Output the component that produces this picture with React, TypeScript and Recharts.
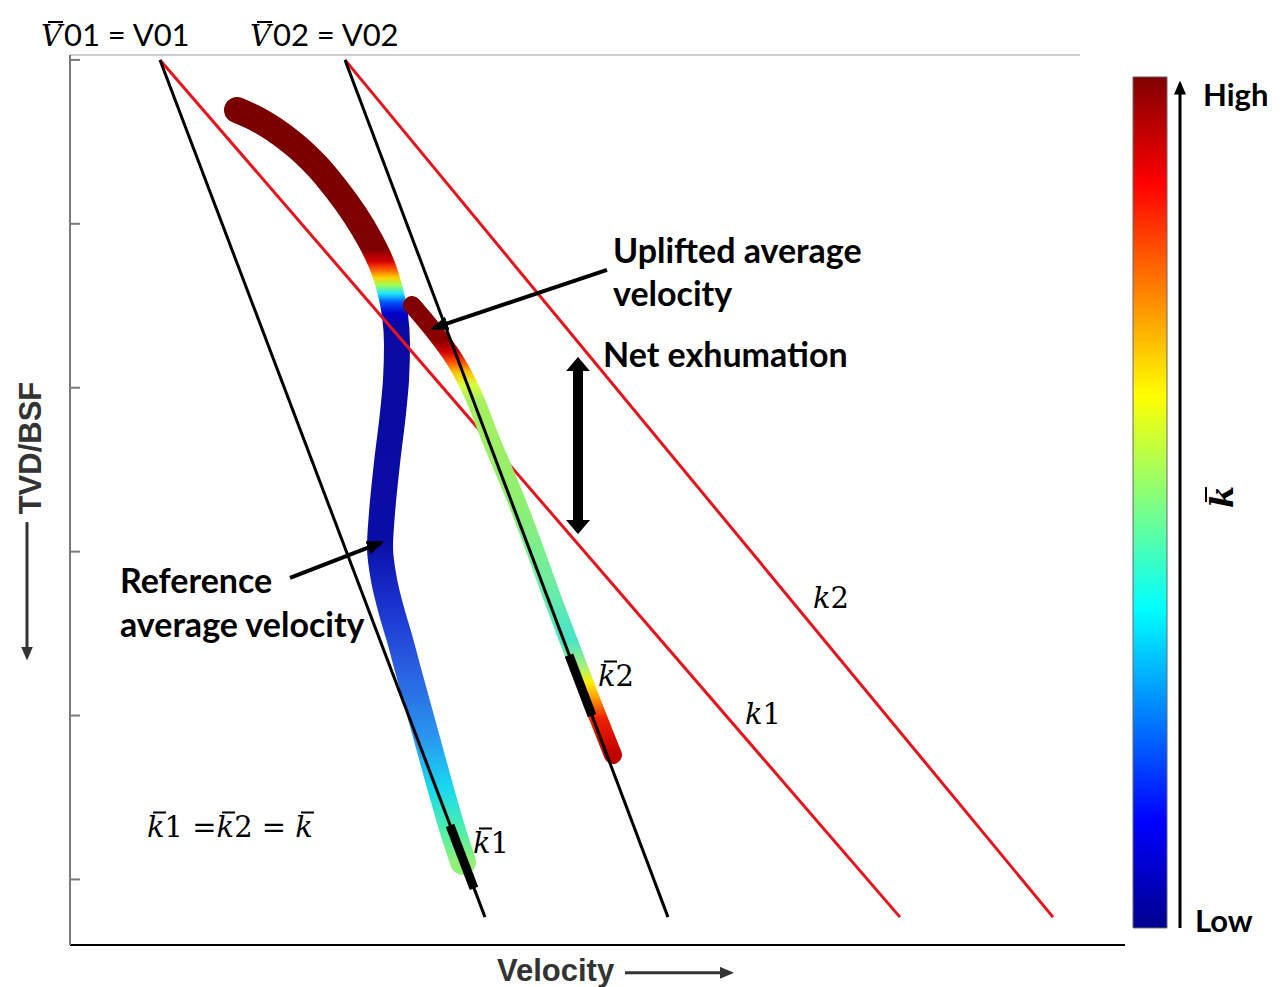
import React from "react";
import { ComposedChart, Line, XAxis, YAxis, ReferenceLine, ReferenceArea } from "recharts";

// velocity (x) and depth (TVD/BSF, y, increasing downwards) in arbitrary units
const depthTicks = [0, 1, 2, 3, 4, 5];

const blackLine1 = [
  { v: 0.9, d: 0 },
  { v: 4.15, d: 5.23 },
];
const redLine1 = [
  { v: 0.9, d: 0 },
  { v: 8.3, d: 5.23 },
];
const blackLine2 = [
  { v: 2.75, d: 0 },
  { v: 5.98, d: 5.23 },
];
const redLine2 = [
  { v: 2.75, d: 0 },
  { v: 9.83, d: 5.23 },
];

// reference average velocity trend
const referenceCurve = [
  { v: 1.67, d: 0.306 },
  { v: 1.85, d: 0.355 },
  { v: 2.05, d: 0.428 },
  { v: 2.26, d: 0.525 },
  { v: 2.47, d: 0.647 },
  { v: 2.67, d: 0.794 },
  { v: 2.85, d: 0.946 },
  { v: 3.0, d: 1.099 },
  { v: 3.12, d: 1.251 },
  { v: 3.2, d: 1.404 },
  { v: 3.25, d: 1.556 },
  { v: 3.27, d: 1.739 },
  { v: 3.26, d: 1.953 },
  { v: 3.23, d: 2.154 },
  { v: 3.17, d: 2.459 },
  { v: 3.12, d: 2.764 },
  { v: 3.1, d: 2.972 },
  { v: 3.14, d: 3.173 },
  { v: 3.22, d: 3.374 },
  { v: 3.3, d: 3.539 },
  { v: 3.38, d: 3.722 },
  { v: 3.49, d: 3.966 },
  { v: 3.6, d: 4.21 },
  { v: 3.71, d: 4.454 },
  { v: 3.82, d: 4.686 },
  { v: 3.93, d: 4.893 },
];

// uplifted average velocity trend
const upliftedCurve = [
  { v: 3.42, d: 1.495 },
  { v: 3.63, d: 1.648 },
  { v: 3.83, d: 1.813 },
  { v: 4.01, d: 2.014 },
  { v: 4.21, d: 2.319 },
  { v: 4.45, d: 2.667 },
  { v: 4.64, d: 2.972 },
  { v: 4.82, d: 3.277 },
  { v: 5.01, d: 3.582 },
  { v: 5.2, d: 3.887 },
  { v: 5.35, d: 4.119 },
  { v: 5.43, d: 4.241 },
];

// fitted k-bar intervals
const kBar1 = [
  { v: 3.8, d: 4.67 },
  { v: 4.04, d: 5.055 },
];
const kBar2 = [
  { v: 4.99, d: 3.632 },
  { v: 5.22, d: 4.0 },
];

// colour stops (offset along depth of each trend)
const refStops: [number, string][] = [
  [0, "#7a0000"],
  [0.185, "#800000"],
  [0.201, "#d40000"],
  [0.212, "#ff5a00"],
  [0.223, "#ffd200"],
  [0.233, "#9cff5a"],
  [0.244, "#1ee6ff"],
  [0.256, "#0050ff"],
  [0.27, "#0000c8"],
  [0.291, "#0a0aa0"],
  [0.57, "#0a0ca6"],
  [0.662, "#1a34d0"],
  [0.742, "#2a5ee0"],
  [0.834, "#2a96f0"],
  [0.901, "#18d8f0"],
  [0.96, "#50f0a8"],
  [1, "#90f078"],
];
const upStops: [number, string][] = [
  [0, "#800000"],
  [0.078, "#8a0000"],
  [0.104, "#d00000"],
  [0.127, "#ff5000"],
  [0.149, "#ffc000"],
  [0.178, "#d8ff40"],
  [0.211, "#a8f060"],
  [0.433, "#90ee70"],
  [0.611, "#70eea0"],
  [0.744, "#48e4c8"],
  [0.8, "#a0f080"],
  [0.84, "#fff000"],
  [0.878, "#ff9000"],
  [0.918, "#f02000"],
  [1, "#c00000"],
];
const jetStops: [number, string][] = [
  [0, "#800000"],
  [0.125, "#ff0000"],
  [0.375, "#ffff00"],
  [0.5, "#80ff80"],
  [0.625, "#00ffff"],
  [0.875, "#0000ff"],
  [1, "#00008f"],
];

const RED = "#e8141c";
const MATH = "'DejaVu Serif', serif";
const SANS = "Lato, 'Open Sans', sans-serif";
const ARIAL = "'Liberation Sans', Arial, sans-serif";

const arrow =
  (width: number, end: string, start?: string, color = "#000") =>
  (p: any) =>
    (
      <line
        x1={p.x1}
        y1={p.y1}
        x2={p.x2}
        y2={p.y2}
        stroke={color}
        strokeWidth={width}
        markerEnd={`url(#${end})`}
        markerStart={start ? `url(#${start})` : undefined}
      />
    );

const Txt = ({ x, y, size, children, style }: any) => (
  <div
    style={{
      position: "absolute",
      left: x,
      top: y,
      fontSize: size,
      lineHeight: 1,
      whiteSpace: "nowrap",
      transform: "translateY(-50%)",
      ...style,
    }}
  >
    {children}
  </div>
);

const Bar = ({ children, left = "0.2em", w = "0.45em" }: any) => (
  <span style={{ position: "relative", display: "inline-block" }}>
    {children}
    <span
      style={{
        position: "absolute",
        left,
        top: "-0.02em",
        width: w,
        height: "0.06em",
        background: "currentColor",
      }}
    />
  </span>
);

const K = ({ bar }: { bar?: boolean }) =>
  bar ? (
    <Bar>
      <i>k</i>
    </Bar>
  ) : (
    <i>k</i>
  );

export default function App() {
  return (
    <div
      style={{
        position: "absolute",
        left: 0,
        top: 0,
        width: 1282,
        height: 987,
        background: "#fff",
        overflow: "hidden",
      }}
    >
      <ComposedChart width={1282} height={987} margin={{ top: 55, right: 157, bottom: 12, left: 10 }}>
        <defs>
          <linearGradient id="refGrad" x1="0" y1="0" x2="0" y2="1">
            {refStops.map(([o, c]) => (
              <stop key={o} offset={o} stopColor={c} />
            ))}
          </linearGradient>
          <linearGradient id="upGrad" x1="0" y1="0" x2="0" y2="1">
            {upStops.map(([o, c]) => (
              <stop key={o} offset={o} stopColor={c} />
            ))}
          </linearGradient>
          <linearGradient id="jet" x1="0" y1="0" x2="0" y2="1">
            {jetStops.map(([o, c]) => (
              <stop key={o} offset={o} stopColor={c} />
            ))}
          </linearGradient>
          <marker id="headMd" viewBox="0 0 18 14" refX="14" refY="7" markerWidth="18" markerHeight="14" markerUnits="userSpaceOnUse" orient="auto-start-reverse">
            <path d="M0,0 L18,7 L0,14 z" fill="#000" />
          </marker>
          <marker id="headBig" viewBox="0 0 14 24" refX="5" refY="12" markerWidth="14" markerHeight="24" markerUnits="userSpaceOnUse" orient="auto-start-reverse">
            <path d="M0,0 L14,12 L0,24 z" fill="#000" />
          </marker>
          <marker id="headSm" viewBox="0 0 14 12" refX="10" refY="6" markerWidth="14" markerHeight="12" markerUnits="userSpaceOnUse" orient="auto-start-reverse">
            <path d="M0,0 L14,6 L0,12 z" fill="#000" />
          </marker>
          <marker id="headSmGray" viewBox="0 0 14 12" refX="10" refY="6" markerWidth="14" markerHeight="12" markerUnits="userSpaceOnUse" orient="auto-start-reverse">
            <path d="M0,0 L14,6 L0,12 z" fill="#333" />
          </marker>
        </defs>
        <XAxis
          type="number"
          dataKey="v"
          domain={[0, 10.55]}
          allowDataOverflow
          tick={false}
          tickLine={false}
          axisLine={{ stroke: "#000", strokeWidth: 2 }}
          height={30}
        />
        <YAxis
          type="number"
          dataKey="d"
          domain={[-0.03, 5.4]}
          reversed
          allowDataOverflow
          ticks={depthTicks}
          tickSize={-10}
          tickFormatter={() => ""}
          axisLine={{ stroke: "#7a7a7a", strokeWidth: 2 }}
          tickLine={{ stroke: "#7a7a7a", strokeWidth: 2 }}
          width={60}
        />
        {/* thin frame line along the top */}
        <ReferenceLine
          segment={[
            { x: 0, y: -0.03 },
            { x: 10.1, y: -0.03 },
          ]}
          stroke="#9a9a9a"
          strokeWidth={1}
          ifOverflow="visible"
        />

        <Line data={referenceCurve} dataKey="d" type="monotoneY" stroke="url(#refGrad)" strokeWidth={26} strokeLinecap="round" strokeLinejoin="round" dot={false} activeDot={false} isAnimationActive={false} />
        <Line data={redLine1} dataKey="d" type="linear" stroke={RED} strokeWidth={3} dot={false} activeDot={false} isAnimationActive={false} />
        <Line data={redLine2} dataKey="d" type="linear" stroke={RED} strokeWidth={3} dot={false} activeDot={false} isAnimationActive={false} />
        <Line data={upliftedCurve} dataKey="d" type="monotoneY" stroke="url(#upGrad)" strokeWidth={18} strokeLinecap="round" strokeLinejoin="round" dot={false} activeDot={false} isAnimationActive={false} />
        <Line data={blackLine1} dataKey="d" type="linear" stroke="#000" strokeWidth={3} dot={false} activeDot={false} isAnimationActive={false} />
        <Line data={blackLine2} dataKey="d" type="linear" stroke="#000" strokeWidth={3} dot={false} activeDot={false} isAnimationActive={false} />
        <Line data={kBar1} dataKey="d" type="linear" stroke="#000" strokeWidth={9} dot={false} activeDot={false} isAnimationActive={false} />
        <Line data={kBar2} dataKey="d" type="linear" stroke="#000" strokeWidth={9} dot={false} activeDot={false} isAnimationActive={false} />

        {/* colour bar */}
        <ReferenceArea x1={10.63} x2={10.97} y1={0.104} y2={5.296} fill="url(#jet)" fillOpacity={1} stroke="#666" strokeWidth={1} ifOverflow="visible" />

        {/* annotation arrows */}
        <ReferenceLine segment={[{ x: 5.37, y: 1.281 }, { x: 3.64, y: 1.635 }]} shape={arrow(4, "headMd")} ifOverflow="visible" />
        <ReferenceLine segment={[{ x: 2.2, y: 3.16 }, { x: 3.11, y: 2.945 }]} shape={arrow(4, "headMd")} ifOverflow="visible" />
        <ReferenceLine segment={[{ x: 5.08, y: 1.868 }, { x: 5.08, y: 2.838 }]} shape={arrow(10, "headBig", "headBig")} ifOverflow="visible" />
        <ReferenceLine segment={[{ x: 11.1, y: 5.296 }, { x: 11.1, y: 0.15 }]} shape={arrow(3, "headSm")} ifOverflow="visible" />
        <ReferenceLine segment={[{ x: 5.55, y: 5.57 }, { x: 6.6, y: 5.57 }]} shape={arrow(3, "headSmGray", undefined, "#333")} ifOverflow="visible" />
        <ReferenceLine segment={[{ x: -0.43, y: 2.82 }, { x: -0.43, y: 3.64 }]} shape={arrow(3, "headSmGray", undefined, "#333")} ifOverflow="visible" />
      </ComposedChart>

      {/* top labels */}
      <Txt x={41} y={35} size={29}>
        <span style={{ fontFamily: MATH }}>
          <Bar left="0.25em" w="0.5em">
            <i>V</i>
          </Bar>
        </span>
        <span style={{ fontFamily: SANS, fontSize: 31, marginLeft: 2 }}>01 = V01</span>
      </Txt>
      <Txt x={250} y={35} size={29}>
        <span style={{ fontFamily: MATH }}>
          <Bar left="0.25em" w="0.5em">
            <i>V</i>
          </Bar>
        </span>
        <span style={{ fontFamily: SANS, fontSize: 31, marginLeft: 2 }}>02 = V02</span>
      </Txt>

      {/* annotations */}
      <div style={{ fontFamily: SANS, fontWeight: 700, color: "#000" }}>
        <Txt x={613} y={250} size={34}>Uplifted average</Txt>
        <Txt x={613} y={293} size={34}>velocity</Txt>
        <Txt x={603} y={354} size={34}>Net exhumation</Txt>
        <Txt x={120} y={580} size={34}>Reference</Txt>
        <Txt x={120} y={624} size={34}>average velocity</Txt>
        <Txt x={1203} y={94} size={31}>High</Txt>
        <Txt x={1195} y={920} size={31}>Low</Txt>
      </div>

      <div style={{ fontFamily: MATH, color: "#000" }}>
        <Txt x={147} y={827} size={29}>
          <K bar />1 =<K bar />2 = <K bar />
        </Txt>
        <Txt x={473} y={843} size={29}>
          <K bar />1
        </Txt>
        <Txt x={598} y={676} size={29}>
          <K bar />2
        </Txt>
        <Txt x={813} y={598} size={29}>
          <K />2
        </Txt>
        <Txt x={745} y={714} size={29}>
          <K />1
        </Txt>
        <div
          style={{
            position: "absolute",
            left: 1222,
            top: 497,
            fontSize: 32,
            fontWeight: 700,
            lineHeight: 1,
            transform: "translate(-50%, -50%) rotate(-90deg)",
          }}
        >
          <K bar />
        </div>
      </div>

      {/* axis titles */}
      <div
        style={{
          position: "absolute",
          left: 30,
          top: 448,
          fontFamily: ARIAL,
          fontWeight: 700,
          fontSize: 31,
          color: "#333",
          lineHeight: 1,
          whiteSpace: "nowrap",
          transform: "translate(-50%, -50%) rotate(-90deg)",
        }}
      >
        TVD/BSF
      </div>
      <Txt x={497} y={970} size={31} style={{ fontFamily: ARIAL, fontWeight: 700, color: "#333" }}>
        Velocity
      </Txt>
    </div>
  );
}
